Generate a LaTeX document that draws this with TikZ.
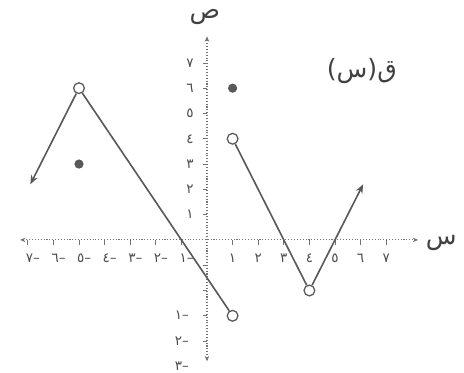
\documentclass[tikz,border=0pt]{standalone}
\usepackage{fontspec}
\newfontfamily\arabicfont[Script=Arabic]{DejaVu Sans}
\TeXXeTstate=1
\usetikzlibrary{arrows.meta}

\begin{document}
\begin{tikzpicture}[
		x=0.5cm, y=0.494cm,
		every node/.style={font=\arabicfont},
		axis/.style={
			densely dotted,
			draw=black!55,
			line width=0.6pt,
			{Stealth[length=3pt,width=2.5pt]}-{Stealth[length=3pt,width=2.5pt]}
		},
		tickmark/.style={draw=black!55, line width=0.4pt},
		ticklabel/.style={
			font=\arabicfont\fontsize{7.5}{8}\selectfont,
			text=black!70,
			inner sep=1pt
		},
		curve/.style={line width=0.9pt, draw=black!65},
		tip/.style={-{Stealth[length=5pt,width=4pt]}},
		hollow/.style={
			circle,
			draw=black!65,
			line width=0.7pt,
			fill=white,
			minimum size=2.1mm,
			inner sep=0pt
		},
		filled/.style={
			circle,
			fill=black!65,
			minimum size=1.8mm,
			inner sep=0pt
		},
		axislabel/.style={font=\arabicfont\fontsize{14}{16}\selectfont, text=black!75}
		]
		
		\useasboundingbox (-8.086,-5.24) rectangle (10.04,9.486);
		
		% Axes
		\coordinate (xl) at (-7.3,0);
		\coordinate (xr) at (8.25,0);
		\coordinate (yb) at (0,-4.8);
		\coordinate (yt) at (0,8.05);
		\draw[axis] (xl) -- (xr);
		\draw[axis] (yb) -- (yt);
		
		\foreach \x in {-7,...,-1,1,2,...,7}
		\draw[tickmark] (\x,0) -- (\x,-0.2);
		\foreach \y in {-4,...,-1,1,2,...,7}
		\draw[tickmark] (0,\y) -- (-0.16,\y);
		
		% Tick labels
		\foreach \x/\d in {1/١,2/٢,3/٣,4/٤,5/٥,6/٦,7/٧}{
			\node[ticklabel] (xp\x) at (\x,-0.72) {\d};
			\node[ticklabel] (xn\x) at (-\x+0.2,-0.72) {\hbox{\d}\hbox{–}};
		}
		\foreach \y/\d in {1/١,2/٢,3/٣,4/٤,5/٥,6/٦,7/٧}
		\node[ticklabel] (yp\y) at (-0.66,\y) {\d};
		\node[ticklabel] (yn1) at (-0.98,-2.98) {\hbox{١}\hbox{–}};
		\node[ticklabel] (yn2) at (-0.98,-4.0) {\hbox{٢}\hbox{–}};
		\node[ticklabel] (yn3) at (-0.98,-5.0) {\hbox{٣}\hbox{–}};
		
		% Axis names and title
		\node[axislabel] (xname) at (9.15,-0.14) {س};
		\node[axislabel] (yname) at (-0.08,8.8) {ص};
		\node[axislabel] (fname) at (6.05,6.66) {\beginR ق(س)\endR};
		
		% Points
		\node[hollow] (peak) at (-5,6) {};
		\node[hollow] (gapend) at (1,-3) {};
		\node[hollow] (jump) at (1,4) {};
		\node[hollow] (vertex) at (4,-2) {};
		\node[filled] (dotA) at (-5,3) {};
		\node[filled] (dotB) at (1,6) {};
		\coordinate (leftend) at (-6.9,2.2);
		\coordinate (rightend) at (6.1,2.2);
		
		% Graph
		\draw[curve, tip] (peak) -- (leftend);
		\draw[curve] (peak) -- (gapend);
		\draw[curve] (jump) -- (vertex);
		\draw[curve, tip] (vertex) -- (rightend);
	\end{tikzpicture}
\end{document}
